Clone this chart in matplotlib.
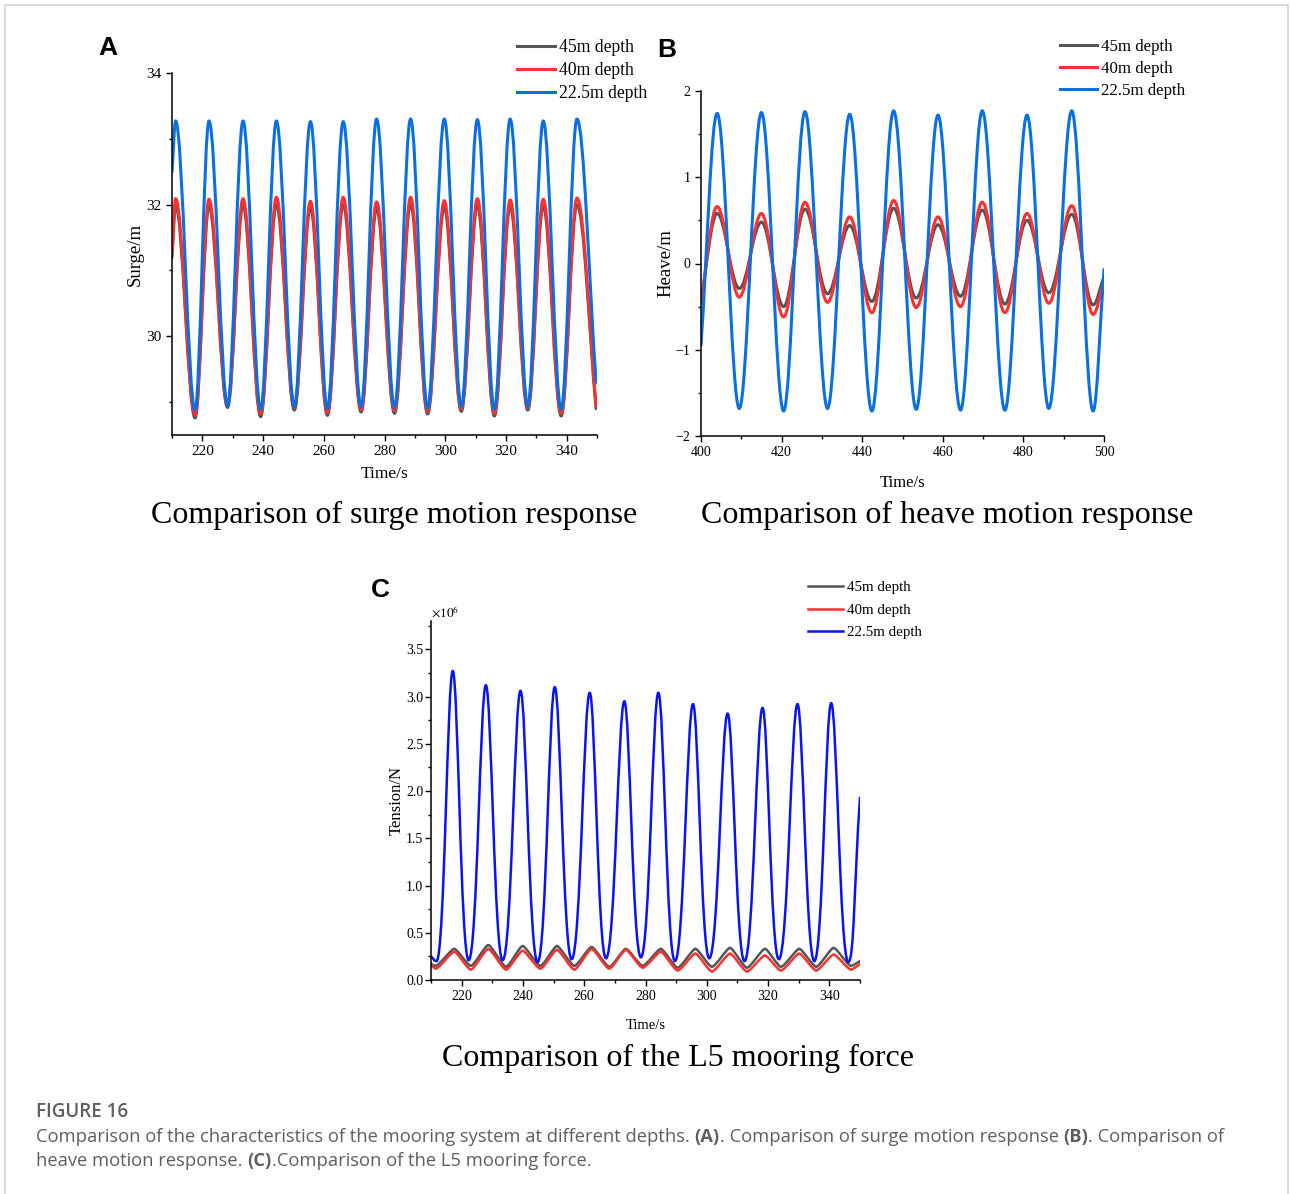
import numpy as np
import matplotlib
matplotlib.use('Agg')
import matplotlib.pyplot as plt
from matplotlib.path import Path
from matplotlib.patches import PathPatch, Rectangle
from matplotlib.lines import Line2D
from matplotlib.ticker import MultipleLocator

plt.rcParams['font.family'] = 'Liberation Serif'
plt.rcParams['mathtext.fontset'] = 'stix'

labels = ['45m depth', '40m depth', '22.5m depth']
clr_gray = '#555555'
clr_red = '#ff3030'
clr_blue = '#0a6fe0'
clr_blue_c = '#0a14f0'

# panel A: surge (start, extrema..., end)
t_surge = [210, 211.2, 217.6, 222.2, 228.3, 233.4, 239.2, 244.4, 250.3, 255.6, 261.2, 266.4, 272.3,
           277.4, 283.3, 288.6, 294.2, 299.7, 305.3, 310.6, 316.2, 321.4, 327.2, 332.3, 338.2, 343.4, 349.7]
surge_45 = [31.2, 31.99, 28.76, 31.98, 28.92, 31.99, 28.78, 32.0, 28.88, 31.95, 28.80, 32.0, 28.85,
            31.94, 28.83, 32.0, 28.82, 31.96, 28.86, 31.99, 28.79, 31.97, 28.88, 31.98, 28.79, 32.0, 28.9]
surge_40 = [31.3, 32.09, 28.80, 32.08, 28.95, 32.09, 28.82, 32.11, 28.92, 32.05, 28.84, 32.11, 28.89,
            32.04, 28.87, 32.11, 28.86, 32.06, 28.90, 32.09, 28.83, 32.07, 28.92, 32.08, 28.83, 32.10, 28.95]
surge_225 = [32.5, 33.27, 28.88, 33.27, 28.95, 33.27, 28.89, 33.27, 28.93, 33.26, 28.90, 33.26, 28.93,
             33.30, 28.92, 33.30, 28.91, 33.30, 28.93, 33.29, 28.89, 33.30, 28.94, 33.27, 28.89, 33.30, 29.3]

# panel B: heave
t_heave = [400, 404.0, 409.5, 415.0, 420.5, 425.8, 431.4, 436.9, 442.4, 447.8, 453.4, 458.8, 464.4,
           469.8, 475.4, 480.9, 486.3, 492.0, 497.3, 500]
heave_45 = [-0.42, 0.58, -0.29, 0.48, -0.50, 0.63, -0.35, 0.44, -0.44, 0.64, -0.40, 0.45, -0.38,
            0.62, -0.47, 0.50, -0.34, 0.57, -0.48, -0.15]
heave_40 = [-0.45, 0.66, -0.39, 0.58, -0.62, 0.71, -0.45, 0.54, -0.57, 0.73, -0.51, 0.54, -0.50,
            0.71, -0.57, 0.58, -0.46, 0.67, -0.59, -0.2]
heave_225 = [-0.95, 1.74, -1.68, 1.75, -1.71, 1.76, -1.68, 1.73, -1.71, 1.77, -1.69, 1.72, -1.70,
             1.77, -1.70, 1.72, -1.68, 1.77, -1.71, -0.07]

# panel C: L5 tension (x1e6 N)
t_ten_small = [210, 211.5, 217.6, 223.0, 228.7, 234.5, 239.9, 245.7, 251.1, 256.8, 262.4, 268.2, 273.6,
               279.1, 285.0, 290.5, 296.3, 301.7, 307.6, 313.1, 319.0, 324.2, 330.2, 335.7, 341.4, 347.1, 350]
ten_45 = [0.17, 0.15, 0.33, 0.15, 0.37, 0.14, 0.36, 0.15, 0.36, 0.15, 0.35, 0.14, 0.33,
          0.15, 0.33, 0.13, 0.33, 0.14, 0.34, 0.13, 0.33, 0.14, 0.33, 0.14, 0.34, 0.15, 0.20]
ten_40 = [0.16, 0.12, 0.30, 0.11, 0.33, 0.11, 0.31, 0.12, 0.32, 0.11, 0.33, 0.12, 0.32,
          0.13, 0.30, 0.10, 0.28, 0.09, 0.28, 0.09, 0.26, 0.10, 0.28, 0.10, 0.27, 0.11, 0.17]
t_ten_blue = [210, 211.8, 217.1, 222.3, 227.9, 233.4, 239.2, 244.8, 250.4, 255.9, 261.8, 267.1, 273.1,
              278.5, 284.2, 289.6, 295.5, 300.8, 306.8, 312.3, 318.2, 323.5, 329.6, 335.1, 340.6, 346.2, 350]
ten_225 = [0.25, 0.20, 3.27, 0.21, 3.12, 0.21, 3.06, 0.19, 3.10, 0.22, 3.04, 0.23, 2.95,
           0.24, 3.04, 0.20, 2.92, 0.23, 2.82, 0.20, 2.88, 0.22, 2.92, 0.20, 2.93, 0.19, 1.93]


def smooth(ax, t, y, color, lw, h_hi=0.36, h_lo=0.36, scale=1.0):
    # smooth curve through the read extrema (horizontal tangents at extrema)
    y = [v * scale for v in y]
    n = len(t)
    ext = [0 < i < n - 1 for i in range(n)]
    hand = []
    for i in range(n):
        if 0 < i < n - 1 and y[i] > y[i - 1]:
            hand.append(h_hi)
        else:
            hand.append(h_lo)
    verts = [(t[0], y[0])]
    codes = [Path.MOVETO]
    for i in range(n - 1):
        dt = t[i + 1] - t[i]
        dy = y[i + 1] - y[i]
        c1 = (t[i] + hand[i] * dt, y[i] if ext[i] else y[i] + hand[i] * dy)
        c2 = (t[i + 1] - hand[i + 1] * dt, y[i + 1] if ext[i + 1] else y[i + 1] - hand[i + 1] * dy)
        verts += [c1, c2, (t[i + 1], y[i + 1])]
        codes += [Path.CURVE4] * 3
    ax.add_patch(PathPatch(Path(verts, codes), fill=False, ec=color, lw=lw, capstyle='round'))


def style(ax, fs):
    ax.spines['top'].set_visible(False)
    ax.spines['right'].set_visible(False)
    ax.tick_params(which='major', direction='out', length=4, width=1, labelsize=fs)
    ax.tick_params(which='minor', direction='out', length=2.5, width=1)
    for s in ('left', 'bottom'):
        ax.spines[s].set_linewidth(1.1)


fig = plt.figure(figsize=(12.9, 11.94), dpi=100)
W, H = 1290, 1194


def px_axes(l, t, r, b):
    return fig.add_axes([l / W, 1 - b / H, (r - l) / W, (b - t) / H])


# ---- A
ax = px_axes(172, 73, 597, 435)
smooth(ax, t_surge, surge_45, clr_gray, 2.2)
smooth(ax, t_surge, surge_40, clr_red, 2.2)
smooth(ax, t_surge, surge_225, clr_blue, 2.2)
ax.set_xlim(210, 350)
ax.set_ylim(28.5, 34)
ax.xaxis.set_major_locator(MultipleLocator(20))
ax.xaxis.set_minor_locator(MultipleLocator(10))
ax.set_yticks([30, 32, 34])
ax.yaxis.set_minor_locator(MultipleLocator(1))
style(ax, 11)
ax.set_xlabel('Time/s', fontsize=12.5, labelpad=5.5)
ax.set_ylabel('Surge/m', fontsize=13.5, labelpad=2)
fig.text(394 / W, 1 - 515 / H, 'Comparison of surge motion response', fontsize=23, ha='center', va='center')
fig.text(108 / W, 1 - 48 / H, 'A', fontsize=19, fontweight='bold', family='Liberation Sans', ha='center', va='center')

# ---- B
ax = px_axes(701, 91, 1104, 436)
smooth(ax, t_heave, heave_45, clr_gray, 2.2)
smooth(ax, t_heave, heave_40, clr_red, 2.2)
smooth(ax, t_heave, heave_225, clr_blue, 2.2)
ax.set_xlim(400, 500)
ax.set_ylim(-2, 2)
ax.xaxis.set_major_locator(MultipleLocator(20))
ax.xaxis.set_minor_locator(MultipleLocator(10))
ax.yaxis.set_major_locator(MultipleLocator(1))
ax.yaxis.set_minor_locator(MultipleLocator(0.5))
style(ax, 10)
ax.set_xlabel('Time/s', fontsize=12, labelpad=11)
ax.set_ylabel('Heave/m', fontsize=13.5, labelpad=1)
fig.text(947 / W, 1 - 515 / H, 'Comparison of heave motion response', fontsize=23, ha='center', va='center')
fig.text(667 / W, 1 - 50 / H, 'B', fontsize=19, fontweight='bold', family='Liberation Sans', ha='center', va='center')

# ---- C
ax = px_axes(431, 621, 860, 980)
smooth(ax, t_ten_small, ten_45, clr_gray, 1.8, 0.18, 0.2, 1e6)
smooth(ax, t_ten_small, ten_40, clr_red, 1.8, 0.18, 0.2, 1e6)
smooth(ax, t_ten_blue, ten_225, clr_blue_c, 1.8, 0.33, 0.5, 1e6)
ax.set_xlim(210, 350)
ax.set_ylim(0, 3.8e6)
ax.xaxis.set_major_locator(MultipleLocator(20))
ax.xaxis.set_minor_locator(MultipleLocator(10))
ax.yaxis.set_major_locator(MultipleLocator(0.5e6))
ax.yaxis.set_minor_locator(MultipleLocator(0.25e6))
ax.yaxis.set_major_formatter(plt.FuncFormatter(lambda v, p: f'{v / 1e6:.1f}'))
style(ax, 10)
ax.tick_params(axis='y', which='major', pad=1.5)
ax.set_xlabel('Time/s', fontsize=10.5, labelpad=11)
ax.set_ylabel('Tension/N', fontsize=12, labelpad=1)
ax.text(0.0, 1.0, r'$\times10^{6}$', transform=ax.transAxes, fontsize=9.5, ha='left', va='bottom')
fig.text(678 / W, 1 - 1058 / H, 'Comparison of the L5 mooring force', fontsize=23, ha='center', va='center')
fig.text(380 / W, 1 - 590 / H, 'C', fontsize=19, fontweight='bold', family='Liberation Sans', ha='center', va='center')


# legends
def legend(x, y, fs, handle_px, blue, lw, sp):
    fpx = fs * 100 / 72
    hs = [Line2D([], [], color=c, lw=lw) for c in (clr_gray, clr_red, blue)]
    fig.legend(hs, labels, loc='upper left', bbox_to_anchor=(x / W, 1 - y / H), frameon=False,
               fontsize=fs, handlelength=handle_px / fpx, handletextpad=4 / fpx,
               labelspacing=sp, borderpad=0, borderaxespad=0)


legend(517, 39, 12.7, 38, clr_blue, 2.2, 0.35)
legend(1060, 39, 12.2, 37, clr_blue, 2.2, 0.35)
legend(808, 581, 10.8, 35, clr_blue_c, 1.8, 0.59)

# caption
fig.add_artist(Rectangle((4.5 / W, -0.01), (1288 - 4.5) / W, 1 - 5 / H + 0.01, transform=fig.transFigure,
                         fill=False, ec='#d4d4d4', lw=1.2))
cap = '#5f5f5f'
fig.text(36 / W, 1 - 1112 / H, 'FIGURE 16', fontsize=13.5, family='Open Sans', fontweight='semibold',
         color=cap, va='center')


def rich(x, y, parts):
    fig.canvas.draw()
    r = fig.canvas.get_renderer()
    for s, bold in parts:
        tx = fig.text(x / W, 1 - y / H, s, fontsize=13.2, family='Open Sans', color=cap, va='center',
                      fontweight='bold' if bold else 'normal')
        x += tx.get_window_extent(r).width


rich(36, 1137, [('Comparison of the characteristics of the mooring system at different depths. ', False),
                ('(A)', True), ('. Comparison of surge motion response ', False), ('(B)', True),
                ('. Comparison of', False)])
rich(36, 1161, [('heave motion response. ', False), ('(C)', True),
                ('.Comparison of the L5 mooring force.', False)])

fig.savefig('out.png', dpi=100)
